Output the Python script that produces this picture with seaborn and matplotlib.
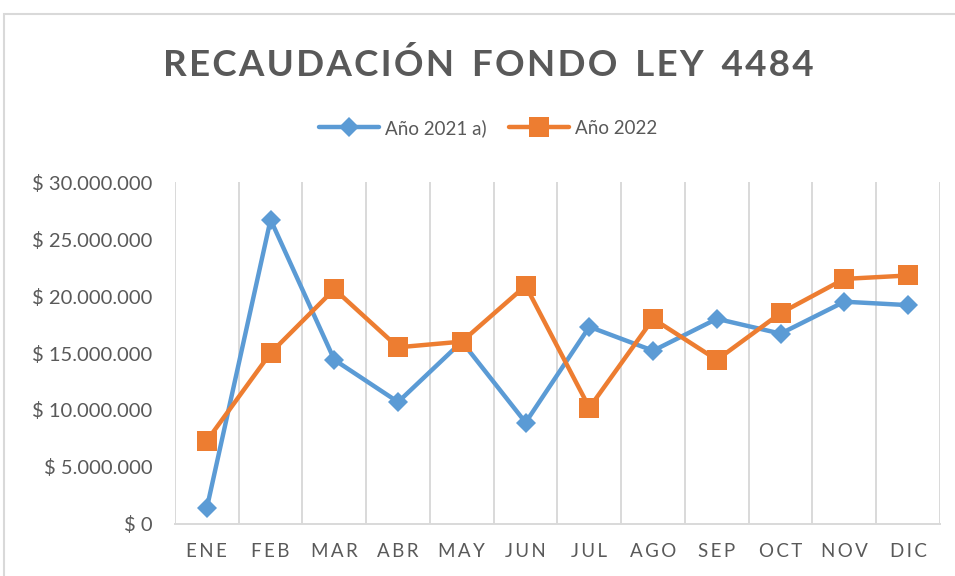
import pandas as pd
import numpy as np
import matplotlib
matplotlib.use('Agg')
import matplotlib.pyplot as plt
import seaborn as sns
from matplotlib.ticker import FuncFormatter, FixedLocator
from matplotlib.patches import Rectangle

meses = ['ENE', 'FEB', 'MAR', 'ABR', 'MAY', 'JUN', 'JUL', 'AGO', 'SEP', 'OCT', 'NOV', 'DIC']
serie_2021 = [1400000, 26700000, 14400000, 10700000, 16000000, 8900000,
              17300000, 15200000, 18000000, 16700000, 19500000, 19200000]
serie_2022 = [7300000, 15000000, 20600000, 15500000, 16000000, 20900000,
              10200000, 18000000, 14400000, 18500000, 21500000, 21800000]
nombres = ['Año 2021 a)', 'Año 2022']
colores = ['#5B9BD5', '#ED7D31']
y_ticks = [0, 5000000, 10000000, 15000000, 20000000, 25000000, 30000000]
titulo = 'RECAUDACIÓN FONDO LEY 4484'

gris = '#595959'
linea = '#D9D9D9'


def formato_pesos(v, pos):
    return '$ ' + '{:,.0f}'.format(v).replace(',', '.')


def espaciado(txt, sep):
    # separa letras para imitar el espaciado de Excel
    return sep.join(txt).replace(sep + ' ' + sep, '  ')


def arma_df():
    df1 = pd.DataFrame({'mes': meses, 'valor': serie_2021, 'serie': nombres[0]})
    df2 = pd.DataFrame({'mes': meses, 'valor': serie_2022, 'serie': nombres[1]})
    df = pd.concat([df1, df2], ignore_index=True)
    df['x'] = df['mes'].map({m: i for i, m in enumerate(meses)})
    return df


def genera_grafico(df):
    sns.set_style('white')
    plt.rcParams['font.family'] = ['Lato', 'DejaVu Sans']
    fig = plt.figure(figsize=(9.55, 5.76), dpi=100)
    ax = fig.add_axes([0.1832, 0.0903, 0.8011, 0.5937])

    sns.lineplot(data=df, x='x', y='valor', hue='serie', style='serie',
                 palette=dict(zip(nombres, colores)),
                 markers={nombres[0]: 'D', nombres[1]: 's'},
                 dashes=False, linewidth=3.2, markeredgewidth=0,
                 ax=ax)
    for l in ax.lines:
        if l.get_marker() == 's':
            l.set_markersize(14)
        elif l.get_marker() == 'D':
            l.set_markersize(10.5)

    ax.set_xlim(-0.5, 11.5)
    ax.set_ylim(0, 30000000)
    ax.set_xticks(range(12))
    ax.set_xticklabels(['\u2009'.join(m) for m in meses], color=gris, fontsize=13.5)
    ax.xaxis.set_minor_locator(FixedLocator(np.arange(-0.5, 12, 1)))
    ax.grid(which='minor', axis='x', color=linea, linewidth=1.4)
    ax.grid(which='major', axis='both', visible=False)
    ax.set_yticks(y_ticks)
    ax.yaxis.set_major_formatter(FuncFormatter(formato_pesos))
    ax.tick_params(axis='y', labelsize=14.5, labelcolor=gris, length=0, pad=16)
    ax.tick_params(axis='x', length=0, pad=14)
    ax.tick_params(which='minor', length=0)
    ax.set_xlabel('')
    ax.set_ylabel('')
    for s in ['top', 'right', 'left']:
        ax.spines[s].set_visible(False)
    ax.spines['bottom'].set_color(linea)
    ax.spines['bottom'].set_linewidth(1.4)

    handles, labels = ax.get_legend_handles_labels()
    ax.legend(handles, labels, loc='center', bbox_to_anchor=(0.511, 0.778),
              bbox_transform=fig.transFigure, ncol=2, frameon=False,
              fontsize=13.5, labelcolor=gris, handlelength=3.2,
              handletextpad=0.3, columnspacing=1.2)

    fig.text(0.511, 0.887, espaciado(titulo, '\u200a'), ha='center', va='center',
             fontsize=26.5, fontweight='bold', color=gris)

    # borde del area del grafico
    fig.patches.append(Rectangle((4 / 955, -0.1), 1.2, 1.1 - 14 / 576,
                                 transform=fig.transFigure, fill=False,
                                 edgecolor=linea, linewidth=1.5))

    fig.savefig('out.png', dpi=100)


if __name__ == '__main__':
    df_data = arma_df()
    genera_grafico(df_data)
